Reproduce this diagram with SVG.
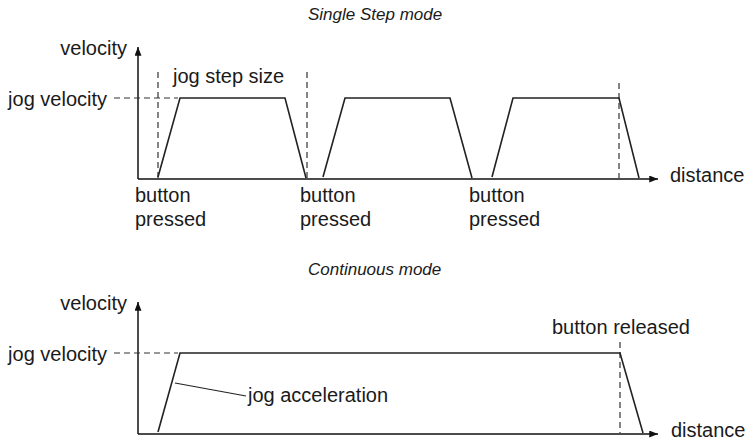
<svg xmlns="http://www.w3.org/2000/svg" width="752" height="443" viewBox="0 0 752 443">
<defs>
<marker id="arr" viewBox="0 0 10 8" refX="10" refY="4" markerWidth="9" markerHeight="7" markerUnits="userSpaceOnUse" orient="auto">
<path d="M0,0 L10,4 L0,8 z" fill="#111"/>
</marker>
<style>
text{font-family:"Liberation Sans",Arial,sans-serif;font-size:20px;fill:#1a1a1a}
.title{font-style:italic;font-size:17px}
.axis{stroke:#111;stroke-width:1.5;fill:none}
.curve{stroke:#222;stroke-width:1.6;fill:none;stroke-linejoin:miter}
.dash{stroke:#333;stroke-width:1.2;stroke-dasharray:6 4;fill:none}
.lead{stroke:#222;stroke-width:1.2;fill:none}
</style>
</defs>
<g id="single-step">
<text class="title" x="308" y="20">Single Step mode</text>
<text x="127" y="55" text-anchor="end">velocity</text>
<text x="107" y="106" text-anchor="end">jog velocity</text>
<text x="173" y="83">jog step size</text>
<text x="670" y="182">distance</text>
<text x="135" y="202">button</text><text x="135" y="226">pressed</text>
<text x="300" y="202">button</text><text x="300" y="226">pressed</text>
<text x="469" y="202">button</text><text x="469" y="226">pressed</text>
</g>
<g id="continuous">
<text class="title" x="308" y="275">Continuous mode</text>
<text x="127" y="310" text-anchor="end">velocity</text>
<text x="107" y="361" text-anchor="end">jog velocity</text>
<text x="248" y="402">jog acceleration</text>
<text x="552" y="334">button released</text>
<text x="671" y="437">distance</text>
</g>
<g id="connectors">
<path class="axis" d="M138,179 V47" marker-end="url(#arr)"/>
<path class="axis" d="M138,179 H658" marker-end="url(#arr)"/>
<path class="dash" d="M114,98 H178"/>
<path class="dash" d="M158,72 V178"/>
<path class="dash" d="M307,72 V178"/>
<path class="dash" d="M619,83 V178"/>
<path class="curve" d="M158,177 L180,98 H285 L306,178"/>
<path class="curve" d="M323,177 L345,98 H450 L472,178"/>
<path class="curve" d="M492,177 L513,98 H619 L639,178"/>
<path class="axis" d="M138,434 V302" marker-end="url(#arr)"/>
<path class="axis" d="M138,434 H658" marker-end="url(#arr)"/>
<path class="dash" d="M114,353 H178"/>
<path class="dash" d="M620,342 V433"/>
<path class="curve" d="M158,432 L180,353 H620 L643,433"/>
<path class="lead" d="M175,383 L246,396"/>
</g>
</svg>
